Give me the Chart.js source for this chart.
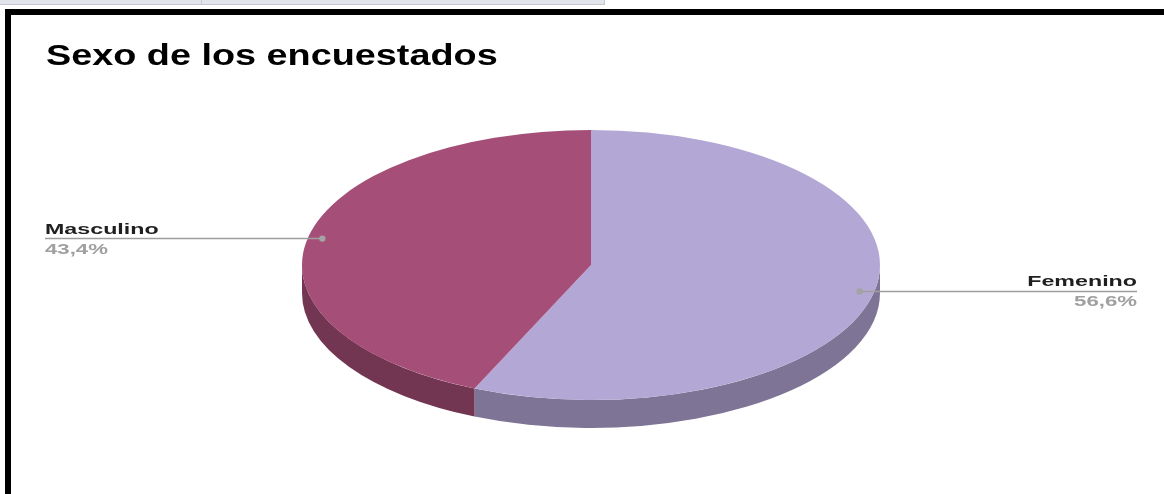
<!DOCTYPE html>
<html>
<head>
<meta charset="utf-8">
<script src="https://cdn.jsdelivr.net/npm/chart.js@4/dist/chart.umd.min.js"></script>
<style>
  html, body { margin: 0; padding: 0; background: #fff; overflow: hidden; }
  body { width: 1164px; height: 494px; position: relative; font-family: "Liberation Sans", Arial, sans-serif; }
  .sheet-bar { position: absolute; left: 0; top: 0; width: 604px; height: 4px; background: #e1e5eb; border-bottom: 1px solid #c4c8ce; border-right: 1px solid #c4c8ce; }
  .sheet-bar .cell { position: absolute; left: 201px; top: 0; width: 1px; height: 5px; background: #c4c8ce; }
  .frame { position: absolute; left: 5px; top: 9px; width: 1200px; height: 520px; border: 6px solid #000; background: #fff; box-sizing: border-box; }
  #chart { position: absolute; left: 0; top: 0; }
</style>
</head>
<body>
<div class="sheet-bar"><div class="cell"></div></div>
<div class="frame"></div>
<canvas id="chart" width="1164" height="494"></canvas>
<script>
const title = "Sexo de los encuestados";
const labels = ["Femenino", "Masculino"];
const values = [56.6, 43.4];
const topColors = ["#b3a7d5", "#a54f78"];
const sideColors = ["#7e7496", "#723552"];

// ellipse of the pie top, in page pixels
const pieBox = { cx: 591, cy: 265, rx: 289, ry: 135, depth: 28 };
const labelLeft = 45;
const labelRight = 1137;

function pct(v) {
    return v.toFixed(1).replace(".", ",") + "%";
}

function stretchText(ctx, text, x, y, sx, align) {
    ctx.save();
    ctx.translate(x, y);
    ctx.scale(sx, 1);
    ctx.textAlign = align;
    ctx.fillText(text, 0, 0);
    ctx.restore();
}

// front half of the cylinder wall, then flatten the pie into an ellipse
const pie3d = {
    id: "pie3d",
    beforeDatasetsDraw(chart) {
        const ctx = chart.ctx;
        const meta = chart.getDatasetMeta(0);
        const { cx, cy, rx, ry, depth } = pieBox;

        meta.data.forEach((arc, i) => {
            const { startAngle, endAngle } = arc.getProps(["startAngle", "endAngle"], true);
            for (const shift of [-2 * Math.PI, 0, 2 * Math.PI]) {
                const a = Math.max(startAngle + shift, 0);
                const b = Math.min(endAngle + shift, Math.PI);
                if (b <= a) continue;
                ctx.beginPath();
                ctx.ellipse(cx, cy, rx, ry, 0, a, b);
                ctx.ellipse(cx, cy + depth, rx, ry, 0, b, a, true);
                ctx.closePath();
                ctx.fillStyle = sideColors[i];
                ctx.fill();
            }
        });

        const arc0 = meta.data[0];
        const r = arc0.outerRadius;
        ctx.save();
        ctx.translate(cx, cy);
        ctx.scale(rx / r, ry / r);
        ctx.translate(-arc0.x, -arc0.y);
    },
    afterDatasetsDraw(chart) {
        chart.ctx.restore();
    },
    afterDraw(chart) {
        const ctx = chart.ctx;
        const meta = chart.getDatasetMeta(0);
        const { cx, cy, rx, ry } = pieBox;

        ctx.save();
        ctx.fillStyle = "#000";
        ctx.font = "bold 30px 'Liberation Sans', Arial, sans-serif";
        ctx.textBaseline = "alphabetic";
        stretchText(ctx, title, 46, 65, 1.26, "left");

        meta.data.forEach((arc, i) => {
            const { startAngle, endAngle } = arc.getProps(["startAngle", "endAngle"], true);
            const mid = (startAngle + endAngle) / 2;
            const px = cx + Math.cos(mid) * rx * 0.95;
            const py = cy + Math.sin(mid) * ry * 0.95;
            const left = Math.cos(mid) < 0;
            const endX = left ? labelLeft : labelRight;

            ctx.strokeStyle = "#9e9e9e";
            ctx.lineWidth = 1.5;
            ctx.beginPath();
            ctx.moveTo(px, py);
            ctx.lineTo(endX, py);
            ctx.stroke();

            ctx.fillStyle = "#a3a3a3";
            ctx.beginPath();
            ctx.arc(px, py, 3.2, 0, Math.PI * 2);
            ctx.fill();

            ctx.font = "bold 15px 'Liberation Sans', Arial, sans-serif";
            ctx.fillStyle = "#1f1f1f";
            stretchText(ctx, labels[i], endX, py - 5, 1.55, left ? "left" : "right");
            ctx.fillStyle = "#a0a0a0";
            stretchText(ctx, pct(values[i]), endX, py + 15, 1.48, left ? "left" : "right");
        });
        ctx.restore();
    }
};

const side = 2 * pieBox.ry;
new Chart(document.getElementById("chart"), {
    type: "pie",
    data: {
        labels: labels,
        datasets: [{
            data: values,
            backgroundColor: topColors,
            borderWidth: 0,
            clip: false
        }]
    },
    options: {
        responsive: false,
        animation: false,
        events: [],
        layout: {
            padding: {
                left: pieBox.cx - side / 2,
                right: 1164 - pieBox.cx - side / 2,
                top: pieBox.cy - side / 2,
                bottom: 494 - pieBox.cy - side / 2
            }
        },
        plugins: {
            legend: { display: false },
            tooltip: { enabled: false },
            title: { display: false }
        }
    },
    plugins: [pie3d]
});
</script>
</body>
</html>
